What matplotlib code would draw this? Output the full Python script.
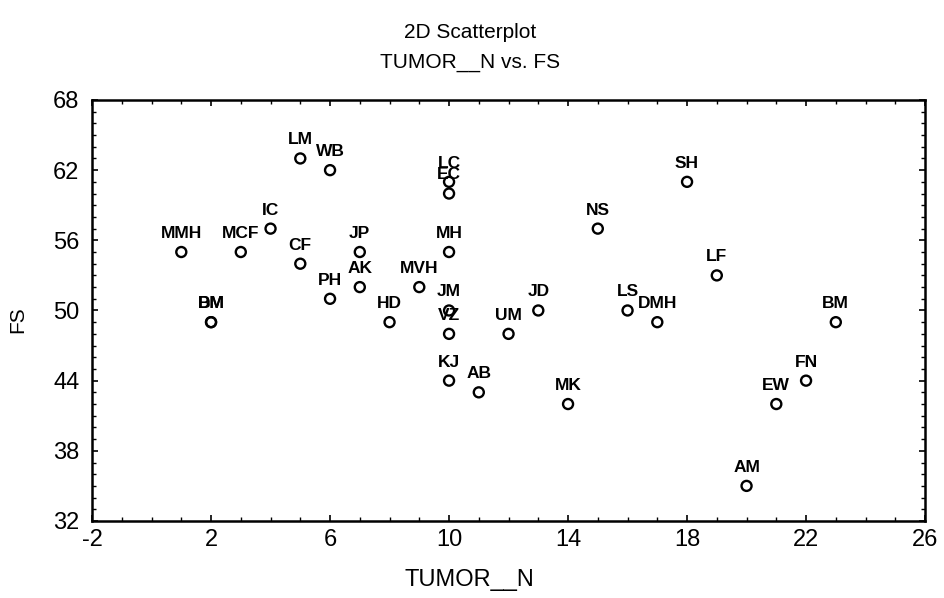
import numpy as np
import matplotlib.pyplot as plt
from matplotlib.ticker import MultipleLocator, FixedLocator

plt.rcParams['font.family'] = ['Liberation Sans', 'DejaVu Sans']
plt.rcParams['axes.unicode_minus'] = False

names = ["MMH", "DM", "BM", "MCF", "IC", "LM", "CF", "WB", "PH", "JP", "AK",
         "HD", "MVH", "LC", "EC", "MH", "JM", "VZ", "KJ", "AB", "UM", "JD",
         "MK", "NS", "LS", "DMH", "SH", "LF", "AM", "EW", "FN", "BM"]
tumor_n = [1, 2, 2, 3, 4, 5, 5, 6, 6, 7, 7,
           8, 9, 10, 10, 10, 10, 10, 10, 11, 12, 13,
           14, 15, 16, 17, 18, 19, 20, 21, 22, 23]
fs = [55, 49, 49, 55, 57, 63, 54, 62, 51, 55, 52,
      49, 52, 61, 60, 55, 50, 48, 44, 43, 48, 50,
      42, 57, 50, 49, 61, 53, 35, 42, 44, 49]

xticks = [-2, 2, 6, 10, 14, 18, 22, 26]
yticks = [32, 38, 44, 50, 56, 62, 68]

fig = plt.figure(figsize=(9.45, 5.98), dpi=100)
ax = fig.add_axes([0.0974, 0.1288, 0.8815, 0.704])

ax.scatter(tumor_n, fs, s=52, facecolors="none", edgecolors="black", linewidths=1.7, zorder=3)

for n, x, y in zip(names, tumor_n, fs):
    ax.annotate(n, (x, y), xytext=(0, 8), textcoords="offset points",
                ha="center", va="bottom", fontsize=12.5, fontweight="bold")

ax.set_xlim(-2, 26)
ax.set_ylim(32, 68)
ax.xaxis.set_major_locator(FixedLocator(xticks))
ax.xaxis.set_minor_locator(MultipleLocator(1))
ax.yaxis.set_major_locator(FixedLocator(yticks))
ax.yaxis.set_minor_locator(MultipleLocator(1))
ax.tick_params(which="both", direction="in", top=True, right=True)
ax.tick_params(which="major", length=4, width=1.2, labelsize=17)
ax.tick_params(axis="y", which="major", pad=9)
ax.tick_params(axis="x", which="major", pad=6)
ax.tick_params(which="minor", length=3, width=1.0)
for sp in ax.spines.values():
    sp.set_linewidth(1.8)

fig.text(0.497, 0.946, "2D Scatterplot", ha="center", va="center", fontsize=15)
fig.text(0.497, 0.896, "TUMOR__N vs. FS", ha="center", va="center", fontsize=15)
fig.text(0.497, 0.03, "TUMOR__N", ha="center", va="center", fontsize=17)
fig.text(0.019, 0.465, "FS", ha="center", va="center", rotation=90, fontsize=15)

plt.savefig("out.png", dpi=100)
